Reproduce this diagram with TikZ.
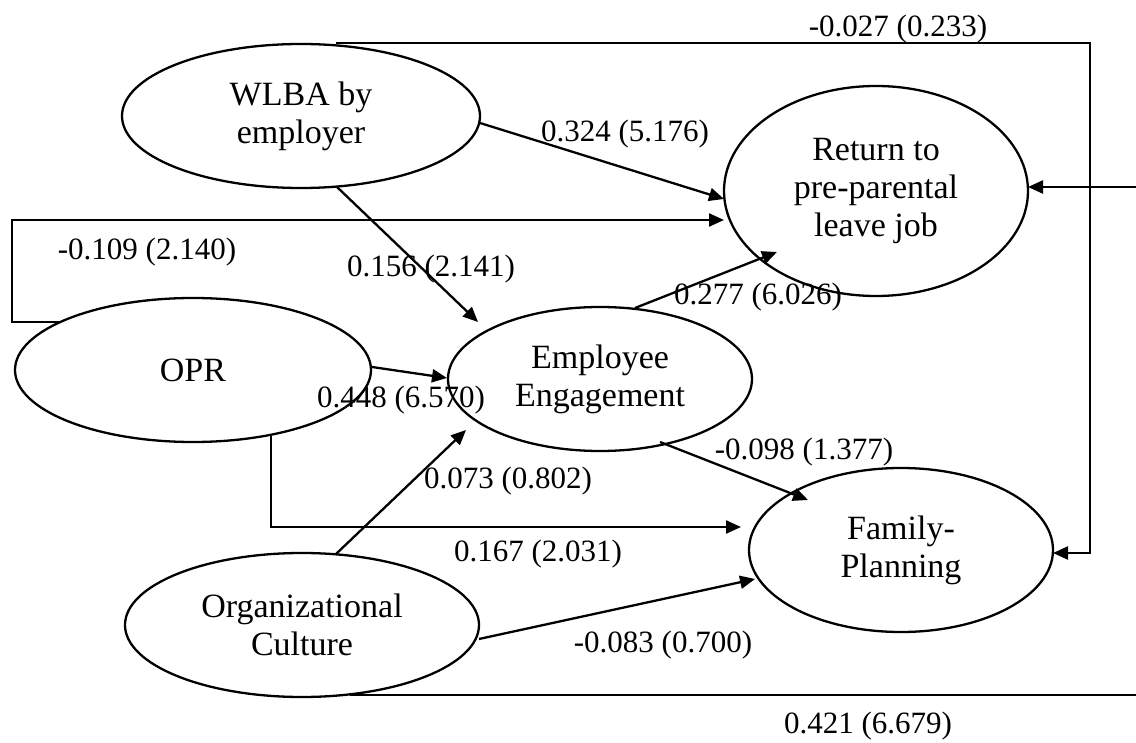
\documentclass[tikz,border=0pt]{standalone}
\usepackage{fontspec}
\setmainfont{Liberation Serif}
\usetikzlibrary{shapes.geometric,arrows.meta,calc}
\tikzset{
  latent/.style={draw, ellipse, line width=2.3pt, inner sep=0pt, align=center, font=\fontsize{34}{38}\selectfont},
  lbl/.style={font=\fontsize{31}{36}\selectfont, inner sep=0pt, anchor=base},
  arr/.style={line width=2.3pt, -{Triangle[length=15pt,width=13pt]}},
}
\begin{document}
\begin{tikzpicture}[x=1pt,y=-1pt]
\useasboundingbox (0,0) rectangle (1136,743);
\fill[white] (0,0) rectangle (1136,743);
\clip (0,0) rectangle (1136,743);

\node[latent, minimum width=358pt, minimum height=144pt] (WLBA) at (301,116) {WLBA by\\employer};
\node[latent, minimum width=304pt, minimum height=210pt] (RET) at (876,191) {Return to\\pre-parental\\leave job};
\node[latent, minimum width=356pt, minimum height=144pt] (OPR) at (193,370) {OPR};
\node[latent, minimum width=304pt, minimum height=144pt] (EE) at (600,379) {Employee\\Engagement};
\node[latent, minimum width=354pt, minimum height=144pt] (OC) at (302,625) {Organizational\\Culture};
\node[latent, minimum width=304pt, minimum height=164pt] (FP) at (901,550) {Family-\\Planning};

\coordinate (lc) at (12,220);
\coordinate (tr) at (1090,43);
\coordinate (br) at (1140,187);

\draw[arr] ($(WLBA)+(179,7)$) -- ($(RET)+(-152,8)$);
\draw[arr] ($(OPR)+(-133,-48)$) -| (lc) -- ($(RET)+(-152,29)$);
\draw[arr] ($(WLBA)+(36,71)$) -- ($(EE)+(-122,-57)$);
\draw[arr] ($(OPR)+(179,-3)$) -- ($(EE)+(-153,-1)$);
\draw[arr] ($(OPR)+(78,65)$) |- ($(FP)+(-160,-23)$);
\draw[arr] ($(OC)+(34,-71)$) -- ($(EE)+(-134,51)$);
\draw[arr] ($(EE)+(35,-71)$) -- ($(RET)+(-99,61)$);
\draw[arr] ($(EE)+(60,63)$) -- ($(FP)+(-93,-50)$);
\draw[arr] ($(OC)+(177,14)$) -- ($(FP)+(-146,29)$);
\draw[arr] ($(WLBA)+(35,-73)$) -- (tr) |- ($(FP)+(152,3)$);
\draw[arr] ($(OC)+(48,70)$) -| (br) -- ($(RET)+(152,-4)$);

\node[lbl] (l1) at (898,37) {-0.027 (0.233)};
\node[lbl] (l2) at (625,142) {0.324 (5.176)};
\node[lbl] (l3) at (147,260) {-0.109 (2.140)};
\node[lbl] (l4) at (431,277) {0.156 (2.141)};
\node[lbl] (l5) at (758,305) {0.277 (6.026)};
\node[lbl] (l6) at (401,408) {0.448 (6.570)};
\node[lbl] (l7) at (804,459) {-0.098 (1.377)};
\node[lbl] (l8) at (508,488) {0.073 (0.802)};
\node[lbl] (l9) at (538,561) {0.167 (2.031)};
\node[lbl] (l10) at (663,652) {-0.083 (0.700)};
\node[lbl] (l11) at (868,733) {0.421 (6.679)};
\end{tikzpicture}
\end{document}
